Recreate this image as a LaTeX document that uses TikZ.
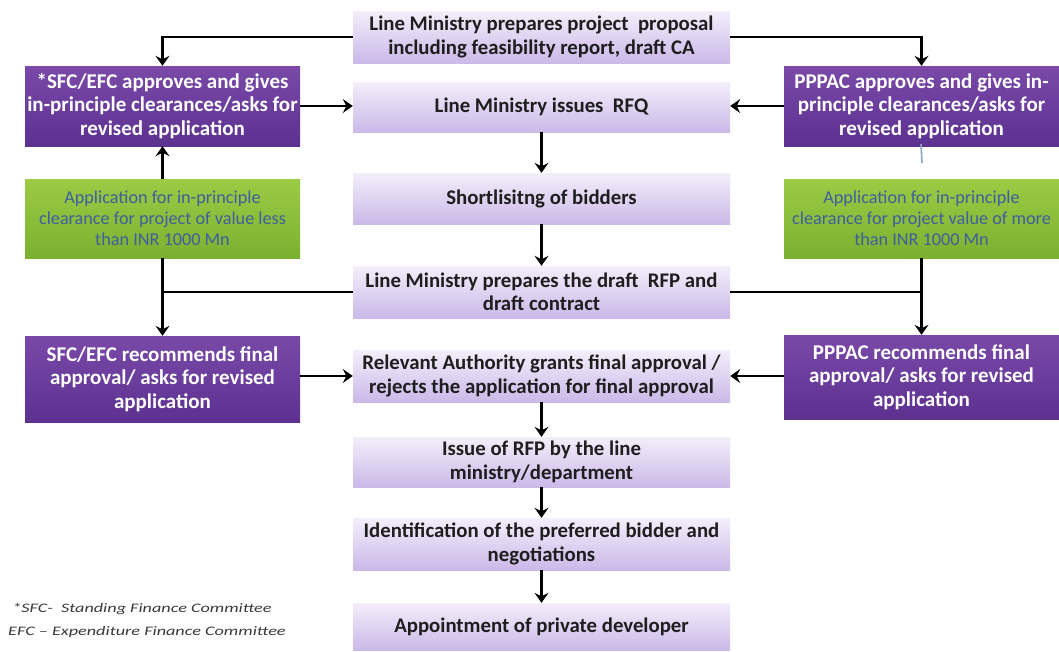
\documentclass[tikz,border=0pt]{standalone}
\usepackage{fontspec}
\setmainfont{Carlito}
\usetikzlibrary{arrows.meta}
\definecolor{purpTop}{HTML}{7A49A8}
\definecolor{purpBot}{HTML}{5C3190}
\definecolor{lavTop}{HTML}{F4EEFB}
\definecolor{lavBot}{HTML}{CBB9E8}
\definecolor{grnTop}{HTML}{9CCB45}
\definecolor{grnBot}{HTML}{7CB030}
\definecolor{grnText}{HTML}{3E5E9E}
\definecolor{centerText}{HTML}{1E1E1E}
\definecolor{noteText}{HTML}{3A3A3A}
\definecolor{strayBlue}{HTML}{8FA3C8}
\begin{document}
\begin{tikzpicture}[x=1pt,y=-1pt,
  stepbox/.style={rectangle, minimum width=377pt, inner sep=1pt,
    top color=lavTop, bottom color=lavBot, draw=none,
    font=\fontsize{20.8}{23.5}\selectfont\bfseries, text=centerText, align=center},
  purplebox/.style={rectangle, minimum width=275pt, inner sep=0pt,
    top color=purpTop, bottom color=purpBot, draw=none,
    font=\fontsize{21}{23.5}\selectfont\bfseries, text=white, align=center},
  greenbox/.style={rectangle, minimum width=275pt, minimum height=79pt, inner sep=1pt,
    top color=grnTop, bottom color=grnBot, draw=none,
    font=\fontsize{18.2}{21}\selectfont, text=grnText, align=center},
  link/.style={line width=2.8pt, black},
  arr/.style={link, -{Stealth[length=10pt,width=14pt,inset=3.5pt]}}]
\useasboundingbox (0,0) rectangle (1059,651);
\fill[white] (0,0) rectangle (1059,651);

% central flow
\node[stepbox, minimum height=52pt] (c1) at (541.5,37)
  {Line Ministry prepares project \ proposal\\including feasibility report, draft CA};
\node[stepbox, minimum height=50pt] (c2) at (541.5,107) {Line Ministry issues \ RFQ};
\node[stepbox, minimum height=51pt] (c3) at (541.5,198.5) {Shortlisitng of bidders};
\node[stepbox, minimum height=52pt] (c4) at (541.5,292)
  {Line Ministry prepares the draft \ RFP and\\draft contract};
\node[stepbox, minimum height=52pt] (c5) at (541.5,376)
  {Relevant Authority grants final approval /\\rejects the application for final approval};
\node[stepbox, minimum height=50pt] (c6) at (541.5,462)
  {Issue of RFP by the line\\ministry/department};
\node[stepbox, minimum height=52pt] (c7) at (541.5,544)
  {Identification of the preferred bidder and\\negotiations};
\node[stepbox, minimum height=47pt] (c8) at (541.5,626.5) {Appointment of private developer};

% left branch (SFC/EFC)
\node[purplebox, minimum height=80pt] (l1) at (162.5,106)
  {*SFC/EFC approves and gives\\in-principle clearances/asks for\\revised application};
\node[greenbox] (lg) at (162.5,218.5)
  {Application for in-principle\\clearance for project of value less\\than INR 1000 Mn};
\node[purplebox, minimum height=86pt] (l2) at (162.5,379)
  {SFC/EFC recommends final\\approval/ asks for revised\\application};

% right branch (PPPAC)
\node[purplebox, minimum height=80pt] (r1) at (921.5,106)
  {PPPAC approves and gives in-\\principle clearances/asks for\\revised application};
\node[greenbox] (rg) at (921.5,218.5)
  {Application for in-principle\\clearance for project value of more\\than INR 1000 Mn};
\node[purplebox, minimum height=84pt] (r2) at (921.5,377)
  {PPPAC recommends final\\approval/ asks for revised\\application};

% footnote
\node[anchor=north west, align=left, text=noteText, inner sep=0pt,
  font=\fontsize{13}{23.5}\selectfont\itshape] (note) at (8,603)
  {\scalebox{1.4}[1]{\ *SFC- \ Standing Finance Committee}\\
   \scalebox{1.4}[1]{EFC -- Expenditure Finance Committee}};

% connectors of the central flow
\draw[arr] (c2) -- (c3);
\draw[arr] (c3) -- (c4);
\draw[arr] (c5) -- (c6);
\draw[arr] (c6) -- (c7);
\draw[arr] (c7) -- (c8);

% proposal to both committees
\draw[arr] (c1.west) -| (l1.north);
\draw[arr] (c1.east) -| (r1.north);
\draw[arr] (l1.east) -- (l1.east -| c2.west);
\draw[arr] (r1.west) -- (r1.west -| c2.east);
\draw[arr] (lg.north) -- (l1.south);

% draft RFP to final recommendation
\draw[arr] (lg.south) -- (l2.north);
\draw[arr] (rg.south) -- (r2.north);
\draw[link] (c4.west) -- (c4.west -| lg.south);
\draw[link] (c4.east) -- (c4.east -| rg.south);
\draw[arr] (c5.west -| l2.east) -- (c5.west);
\draw[arr] (c5.east -| r2.west) -- (c5.east);

% small stray stroke under the PPPAC box
\draw[strayBlue, line width=1.6pt] (921,144) -- (922,163);
\end{tikzpicture}
\end{document}
